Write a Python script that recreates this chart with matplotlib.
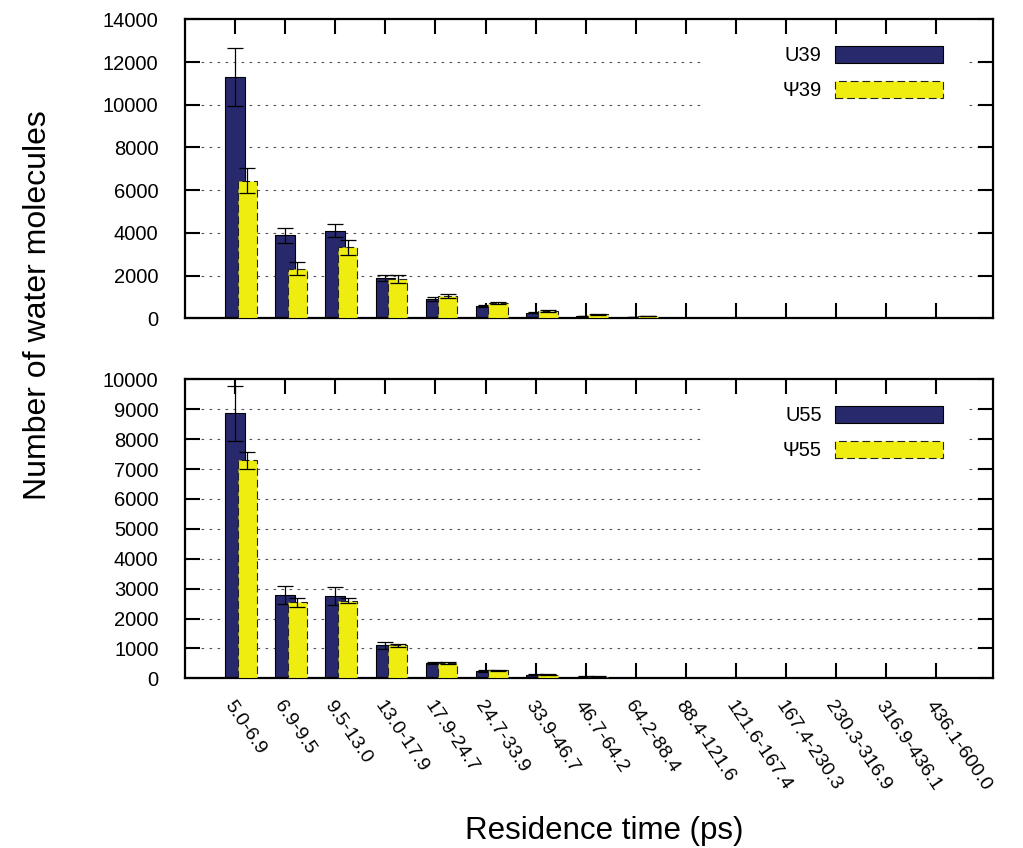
import matplotlib
matplotlib.use("Agg")
import matplotlib.pyplot as plt
from matplotlib.patches import Rectangle
import numpy as np

plt.rcParams['font.family'] = ['Liberation Sans', 'DejaVu Sans']

# Residence-time bins (ps)
bins = ["5.0-6.9", "6.9-9.5", "9.5-13.0", "13.0-17.9", "17.9-24.7", "24.7-33.9",
        "33.9-46.7", "46.7-64.2", "64.2-88.4", "88.4-121.6", "121.6-167.4",
        "167.4-230.3", "230.3-316.9", "316.9-436.1", "436.1-600.0"]

# Position 39
u39 = [11300, 3880, 4100, 1900, 900, 570, 265, 110, 50, 15, 5, 2, 0, 0, 0]
u39_err = [1350, 330, 300, 150, 80, 40, 30, 20, 10, 5, 2, 1, 0, 0, 0]
psi39 = [6450, 2330, 3320, 1840, 1040, 710, 350, 180, 100, 30, 10, 3, 0, 0, 0]
psi39_err = [590, 310, 360, 200, 80, 50, 30, 20, 10, 5, 2, 1, 0, 0, 0]

# Position 55
u55 = [8860, 2800, 2740, 1100, 510, 250, 120, 60, 20, 5, 2, 0, 0, 0, 0]
u55_err = [920, 300, 300, 120, 40, 30, 20, 10, 5, 2, 1, 0, 0, 0, 0]
psi55 = [7290, 2540, 2600, 1110, 515, 270, 125, 60, 20, 5, 2, 0, 0, 0, 0]
psi55_err = [280, 160, 80, 50, 30, 20, 10, 5, 3, 1, 0, 0, 0, 0, 0]

BLUE = '#27296c'
YELLOW = '#efec10'
W = 0.39
OFFSET = 0.245
TICK_FS = 14.5

fig = plt.figure(figsize=(10.23, 8.48), dpi=100)
ax_top = fig.add_axes([0.1808, 0.6246, 0.7899, 0.3526])
ax_bot = fig.add_axes([0.1808, 0.2001, 0.7899, 0.3526])

x = np.arange(len(bins))


def draw_panel(ax, a, a_err, b, b_err, la, lb, ymax, ystep):
    ax.set_axisbelow(True)
    ax.bar(x, a, width=W, color=BLUE, edgecolor='black', linewidth=0.8,
           zorder=2, label=la)
    ax.errorbar(x, a, yerr=a_err, fmt='none', ecolor='black', elinewidth=0.9,
                capsize=5.8, capthick=0.9, zorder=3)
    ax.bar(x + OFFSET, b, width=W, color=YELLOW, edgecolor='#222222',
           linewidth=0.8, linestyle=(0, (7, 3.5)), zorder=4, label=lb)
    ax.errorbar(x + OFFSET, b, yerr=b_err, fmt='none', ecolor='black',
                elinewidth=0.9, capsize=5.8, capthick=0.9, zorder=5)

    ax.set_xlim(-1.0, 15.13)
    ax.set_ylim(0, ymax)
    ax.set_yticks(np.arange(0, ymax + 1, ystep))
    ax.set_xticks(x)
    ax.yaxis.grid(True, color='#555555', linewidth=0.8,
                  linestyle=(0, (2.4, 4.8)), zorder=0.5)
    ax.tick_params(axis='both', which='major', direction='in', length=11,
                   width=1.5, top=True, right=True, labelsize=TICK_FS)
    ax.tick_params(axis='y', pad=19)
    for s in ax.spines.values():
        s.set_linewidth(1.6)

    # white backing behind the key so the grid stops short of it
    ax.add_patch(Rectangle((0.6436, 0.655), 0.3214, 0.29, transform=ax.transAxes,
                           facecolor='white', edgecolor='none', zorder=0.8))
    ax.legend(loc='center right', bbox_to_anchor=(0.938, 0.8205),
              frameon=False, markerfirst=False, borderpad=0, borderaxespad=0,
              handlelength=5.37, handleheight=0.95, labelspacing=0.75,
              handletextpad=0.65, fontsize=TICK_FS)


draw_panel(ax_top, u39, u39_err, psi39, psi39_err, 'U39', 'Ψ39', 14000, 2000)
draw_panel(ax_bot, u55, u55_err, psi55, psi55_err, 'U55', 'Ψ55', 10000, 1000)

ax_top.set_xticklabels([])
ax_bot.set_xticklabels(bins, rotation=-56, ha='left', va='top',
                       rotation_mode='anchor', fontsize=14)
ax_bot.tick_params(axis='x', pad=14)

fig.text(38 / 1023, 1 - 305 / 848, 'Number of water molecules', rotation=90,
         ha='center', va='center', fontsize=23)
fig.text(604 / 1023, 1 - 831 / 848, 'Residence time (ps)', ha='center',
         va='center', fontsize=22.5)

fig.savefig('out.png', dpi=100)
